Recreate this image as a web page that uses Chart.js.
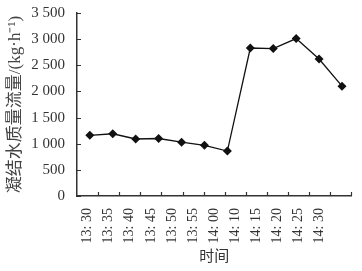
<!DOCTYPE html>
<html>
<head>
<meta charset="utf-8">
<script src="https://cdn.jsdelivr.net/npm/chart.js@4.4.1/dist/chart.umd.min.js"></script>
<style>
  html, body { margin: 0; padding: 0; background: #fff; }
  #wrap { width: 362px; height: 271px; }
</style>
</head>
<body>
<div id="wrap"><canvas id="chart_flow"></canvas></div>
<script>
// 時刻ラベル
const timeLabels = ['13: 30', '13: 35', '13: 40', '13: 45', '13: 50', '13: 55', '14: 00', '14: 10', '14: 15', '14: 20', '14: 25', '14: 30'];
// 凝結水質量流量 (kg/h)
const flowValues = [1160, 1190, 1090, 1100, 1030, 970, 860, 2830, 2820, 3010, 2620, 2100];
// 縦軸目盛
const yMin = 0;
const yMax = 3500;
const yStep = 500;

const fontFamily = "'Liberation Serif', 'Noto Sans CJK SC', serif";

//点データ作成
var points = [];
for (var i = 0; i < flowValues.length; i++) {
    points.push({ x: i, y: flowValues[i] });
}

// 内向きの目盛線
const innerTicks = {
    id: 'innerTicks',
    afterDraw(chart) {
        const ctx = chart.ctx;
        const area = chart.chartArea;
        const ys = chart.scales.y;
        const xs = chart.scales.x;
        ctx.save();
        ctx.strokeStyle = '#333';
        ctx.lineWidth = 1.2;
        ctx.beginPath();
        ys.ticks.forEach(function(t, i) {
            const y = Math.round(ys.getPixelForTick(i)) + 0.5;
            ctx.moveTo(area.left, y);
            ctx.lineTo(area.left + 4, y);
        });
        const n = xs.getLabels().length;
        for (let k = 1; k <= n; k++) {
            const x = Math.round(xs.getPixelForValue(k - 0.5)) + 0.5;
            ctx.moveTo(x, area.bottom);
            ctx.lineTo(x, area.bottom - 4);
        }
        ctx.stroke();
        ctx.restore();
    }
};

let chartArea = document.getElementById('chart_flow');
let myChart = new Chart(chartArea, {
    type: 'line',
    data: {
        labels: timeLabels.concat(['']),
        datasets: [{
            data: points,
            xAxisID: 'xp',
            borderColor: '#111',
            backgroundColor: '#111',
            borderWidth: 1.3,
            pointStyle: 'rectRot',
            pointRadius: 4.5,
            pointBorderWidth: 0,
            tension: 0
        }]
    },
    options: {
        responsive: true,
        maintainAspectRatio: false,
        animation: false,
        layout: { padding: { left: 4, top: 4, right: 9, bottom: 5 } },
        plugins: {
            legend: { display: false },
            tooltip: { enabled: false }
        },
        scales: {
            x: {
                type: 'category',
                offset: true,
                grid: { display: false, offset: true },
                border: { display: true, color: '#333', width: 1.5 },
                ticks: {
                    color: '#333',
                    font: { family: fontFamily, size: 14 },
                    minRotation: 90,
                    maxRotation: 90,
                    autoSkip: false,
                    padding: 4
                },
                title: {
                    display: true,
                    text: '时间',
                    color: '#333',
                    font: { family: fontFamily, size: 15 },
                    padding: { top: 0, bottom: 0 }
                },
                afterFit: function(scale) { scale.height = 70; }
            },
            xp: {
                type: 'linear',
                display: false,
                min: -0.56,
                max: 11.41
            },
            y: {
                min: yMin,
                max: yMax,
                grid: { display: false },
                border: { display: true, color: '#333', width: 1.5 },
                ticks: {
                    stepSize: yStep,
                    color: '#333',
                    font: { family: fontFamily, size: 15 },
                    padding: 4,
                    callback: function(v) {
                        return v >= 1000 ? Math.floor(v / 1000) + ' ' + String(v % 1000).padStart(3, '0') : String(v);
                    }
                },
                title: {
                    display: true,
                    text: '凝结水质量流量/(kg·h⁻¹)',
                    color: '#444',
                    font: { family: fontFamily, size: 17 },
                    padding: { top: 1, bottom: 0 }
                },
                afterFit: function(scale) { scale.width = 73; }
            }
        }
    },
    plugins: [innerTicks]
});
</script>
</body>
</html>
